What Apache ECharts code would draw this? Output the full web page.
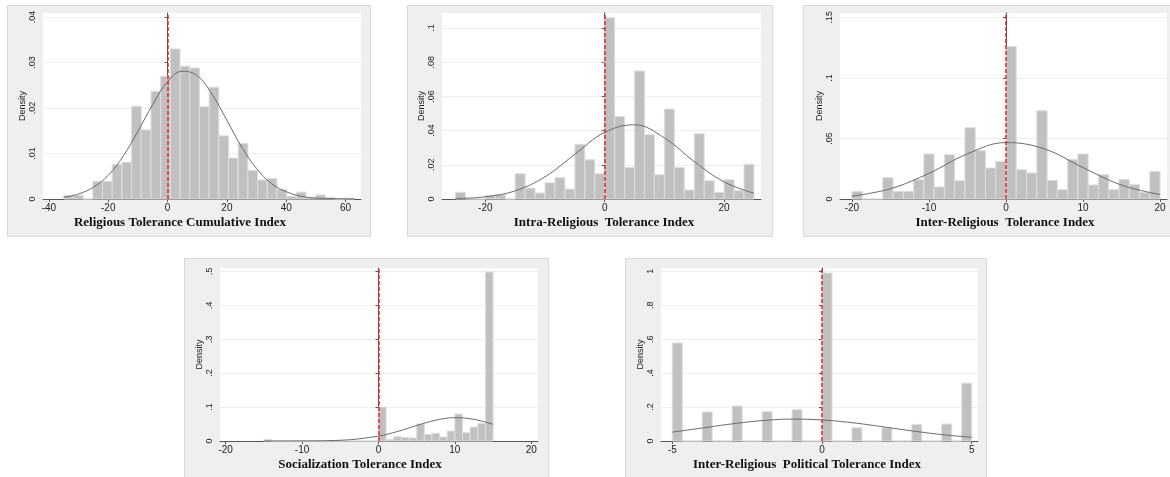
<!DOCTYPE html>
<html>
<head>
<meta charset="utf-8">
<script src="https://cdn.jsdelivr.net/npm/echarts@6/dist/echarts.min.js"></script>
<style>
  html, body { margin: 0; padding: 0; background: #fff; }
  #chart { width: 1170px; height: 477px; }
</style>
</head>
<body>
<div id="chart"></div>
<script>
// 直方图数据：每个面板 30 个分组（起点、组宽、密度）
var cumStart = -35, cumWidth = 98 / 30;
var cumDensity = [0.0008, 0.0008, 0, 0.0039, 0.0039, 0.0076, 0.0081, 0.0204, 0.0152, 0.0237,
  0.027, 0.033, 0.0292, 0.0288, 0.0203, 0.0246, 0.0139, 0.009, 0.0122, 0.0063,
  0.0042, 0.0045, 0.0021, 0.0006, 0.0015, 0.0003, 0.0009, 0.0003, 0, 0.0002];
var cumCurve = [[-35, 0.0004], [-30, 0.0011], [-25, 0.0026], [-20, 0.0052], [-15, 0.0094],
  [-10, 0.0149], [-5, 0.0208], [0, 0.0258], [5, 0.0281], [10, 0.0271], [15, 0.023],
  [20, 0.0173], [25, 0.0114], [30, 0.0067], [35, 0.0034], [40, 0.0016], [45, 0.0006],
  [50, 0.0002], [55, 0.0001], [63, 0]];

var intraStart = -25, intraWidth = 50 / 30;
var intraDensity = [0.0039, 0, 0, 0.002, 0.0025, 0, 0.0148, 0.0064, 0.0035, 0.0095,
  0.0125, 0.0058, 0.032, 0.023, 0.0148, 0.106, 0.0483, 0.0185, 0.0749, 0.0376,
  0.0142, 0.0526, 0.0185, 0.0053, 0.0382, 0.0107, 0.0039, 0.0113, 0.0049, 0.0203];
var intraCurve = [[-25, 0.0003], [-20, 0.0013], [-15, 0.0048], [-10, 0.013], [-5, 0.0262],
  [0, 0.039], [5, 0.0434], [10, 0.0357], [15, 0.0219], [20, 0.01], [25, 0.0034]];

var interStart = -20, interWidth = 40 / 30;
var interDensity = [0.0063, 0, 0, 0.0176, 0.0063, 0.0063, 0.016, 0.0372, 0.0099, 0.0366,
  0.0151, 0.0589, 0.0399, 0.0256, 0.0311, 0.126, 0.0242, 0.0215, 0.0729, 0.0154,
  0.0077, 0.0325, 0.0372, 0.0116, 0.0201, 0.0077, 0.016, 0.0118, 0.0055, 0.0228];
var interCurve = [[-20, 0.0024], [-15, 0.0085], [-10, 0.0212], [-5, 0.0373], [0, 0.0466],
  [5, 0.0413], [10, 0.0259], [15, 0.0115], [20, 0.0037]];

var socialStart = -15, socialWidth = 1;
var socialDensity = [0.005, 0, 0, 0, 0, 0, 0, 0, 0, 0, 0, 0, 0, 0, 0,
  0.1, 0.005, 0.0127, 0.011, 0.009, 0.05, 0.0196, 0.0225, 0.0118, 0.0294,
  0.0794, 0.0245, 0.0412, 0.052, 0.498];
var socialCurve = [[-15, 0], [-10, 0.0002], [-5, 0.0022], [0, 0.0144], [2.5, 0.0281],
  [5, 0.0455], [7.5, 0.0613], [10, 0.0686], [12.5, 0.0637], [15, 0.0492]];

var politicalStart = -5, politicalWidth = 10 / 30;
var politicalDensity = [0.578, 0, 0, 0.171, 0, 0, 0.206, 0, 0, 0.173,
  0, 0, 0.184, 0, 0, 0.99, 0, 0, 0.078, 0,
  0, 0.078, 0, 0, 0.098, 0, 0, 0.1, 0, 0.341];
var politicalCurve = [[-5, 0.052], [-4, 0.0765], [-3, 0.101], [-2, 0.12], [-1, 0.129],
  [0, 0.124], [1, 0.108], [2, 0.0846], [3, 0.0596], [4, 0.0378], [5, 0.0217]];

// 刻度
var cumXTicks = [-40, -20, 0, 20, 40, 60];
var cumYTicks = [0, 0.01, 0.02, 0.03, 0.04];
var intraXTicks = [-20, 0, 20];
var intraYTicks = [0, 0.02, 0.04, 0.06, 0.08, 0.1];
var interXTicks = [-20, -10, 0, 10, 20];
var interYTicks = [0, 0.05, 0.1, 0.15];
var socialXTicks = [-20, -10, 0, 10, 20];
var socialYTicks = [0, 0.1, 0.2, 0.3, 0.4, 0.5];
var politicalXTicks = [-5, 0, 5];
var politicalYTicks = [0, 0.2, 0.4, 0.6, 0.8, 1];

var titles = [
  'Religious Tolerance Cumulative Index',
  'Intra-Religious  Tolerance Index',
  'Inter-Religious  Tolerance Index',
  'Socialization Tolerance Index',
  'Inter-Religious  Political Tolerance Index'
];

// 面板布局
var panels = [
  { frame: [7, 5, 363, 231], grid: [43, 13, 318, 186], x: [-42, 65.2], yMax: 0.0409, yStep: 0.01,
    start: cumStart, width: cumWidth, dens: cumDensity, curve: cumCurve, xt: cumXTicks, yt: cumYTicks, title: [180, 223] },
  { frame: [407, 5, 365, 231], grid: [442, 13, 319, 186], x: [-27.26, 26.18], yMax: 0.1088, yStep: 0.02,
    start: intraStart, width: intraWidth, dens: intraDensity, curve: intraCurve, xt: intraXTicks, yt: intraYTicks, title: [604, 223] },
  { frame: [803, 5, 367, 231], grid: [840, 13, 327, 186], x: [-21.55, 20.9], yMax: 0.1536, yStep: 0.05,
    start: interStart, width: interWidth, dens: interDensity, curve: interCurve, xt: interXTicks, yt: interYTicks, title: [1005, 223] },
  { frame: [184, 258, 364, 225], grid: [220, 268, 318, 173], x: [-20.74, 20.88], yMax: 0.5097, yStep: 0.1,
    start: socialStart, width: socialWidth, dens: socialDensity, curve: socialCurve, xt: socialXTicks, yt: socialYTicks, title: [360, 465] },
  { frame: [625, 258, 361, 225], grid: [661, 268, 317, 173], x: [-5.377, 5.21], yMax: 1.0194, yStep: 0.2,
    start: politicalStart, width: politicalWidth, dens: politicalDensity, curve: politicalCurve, xt: politicalXTicks, yt: politicalYTicks, title: [807, 465] }
];

var chart = echarts.init(document.getElementById('chart'));

function fmtY(v) {
  if (v === 0) return '0';
  return String(+v.toFixed(3)).replace(/^0\./, '.');
}

function renderBar(params, api) {
  var lo = api.coord([api.value(0), 0]);
  var hi = api.coord([api.value(1), api.value(2)]);
  return {
    type: 'rect',
    shape: { x: lo[0], y: hi[1], width: hi[0] - lo[0], height: lo[1] - hi[1] },
    style: { fill: '#c0c0c0', stroke: '#dedede', lineWidth: 1 }
  };
}

var grids = [], xAxes = [], yAxes = [], series = [], graphics = [];
var axisColor = '#555';

panels.forEach(function (p, i) {
  graphics.push({
    type: 'rect', z: -100,
    shape: { x: p.frame[0] + 0.5, y: p.frame[1] + 0.5, width: p.frame[2], height: p.frame[3] },
    style: { fill: '#efefef', stroke: '#d8d8d8', lineWidth: 1 }
  });
  graphics.push({
    type: 'text', z: 100,
    style: {
      text: titles[i], x: p.title[0], y: p.title[1],
      align: 'center', verticalAlign: 'middle', textAlign: 'center', textVerticalAlign: 'middle',
      font: 'bold 13px "Liberation Serif"', fill: '#111'
    }
  });

  grids.push({
    left: p.grid[0], top: p.grid[1], width: p.grid[2], height: p.grid[3],
    show: true, backgroundColor: '#fff', borderWidth: 0
  });

  xAxes.push({
    type: 'value', gridIndex: i, min: p.x[0], max: p.x[1],
    axisLine: { show: true, onZero: false, lineStyle: { color: axisColor, width: 1 } },
    axisTick: { show: true, length: 3, customValues: p.xt, lineStyle: { color: axisColor } },
    axisLabel: {
      customValues: p.xt, margin: 4, color: '#222', fontSize: 10, fontFamily: 'Liberation Sans',
      formatter: function (v) { return String(v); }
    },
    splitLine: { show: false }
  });

  yAxes.push({
    type: 'value', gridIndex: i, min: 0, max: p.yMax, interval: p.yStep,
    name: 'Density', nameLocation: 'middle', nameGap: 16, nameRotate: 90,
    nameTextStyle: { fontSize: 9, color: '#222', fontFamily: 'Liberation Sans' },
    axisLine: { show: true, lineStyle: { color: axisColor, width: 1 } },
    axisTick: { show: true, length: 3, customValues: p.yt, lineStyle: { color: axisColor } },
    axisLabel: {
      customValues: p.yt, rotate: 90, margin: 6, color: '#222', fontSize: 9, fontFamily: 'Liberation Sans',
      formatter: fmtY
    },
    splitLine: { show: true, lineStyle: { color: '#eeeeee', width: 1 } }
  });

  var bars = p.dens.map(function (d, k) {
    return [p.start + k * p.width, p.start + (k + 1) * p.width, d];
  });

  series.push({
    type: 'custom', xAxisIndex: i, yAxisIndex: i,
    renderItem: renderBar, data: bars, silent: true
  });

  series.push({
    type: 'line', xAxisIndex: i, yAxisIndex: i,
    data: p.curve, smooth: 0.4, showSymbol: false, silent: true,
    lineStyle: { color: '#6a6a6a', width: 1 },
    markLine: {
      silent: true, symbol: ['none', 'none'], label: { show: false },
      lineStyle: { color: '#e3262a', type: [4, 2], width: 1.5 },
      data: [{ xAxis: 0 }]
    }
  });
});

var option = {
  animation: false,
  grid: grids,
  xAxis: xAxes,
  yAxis: yAxes,
  series: series,
  graphic: { elements: graphics }
};

chart.setOption(option);
</script>
</body>
</html>
